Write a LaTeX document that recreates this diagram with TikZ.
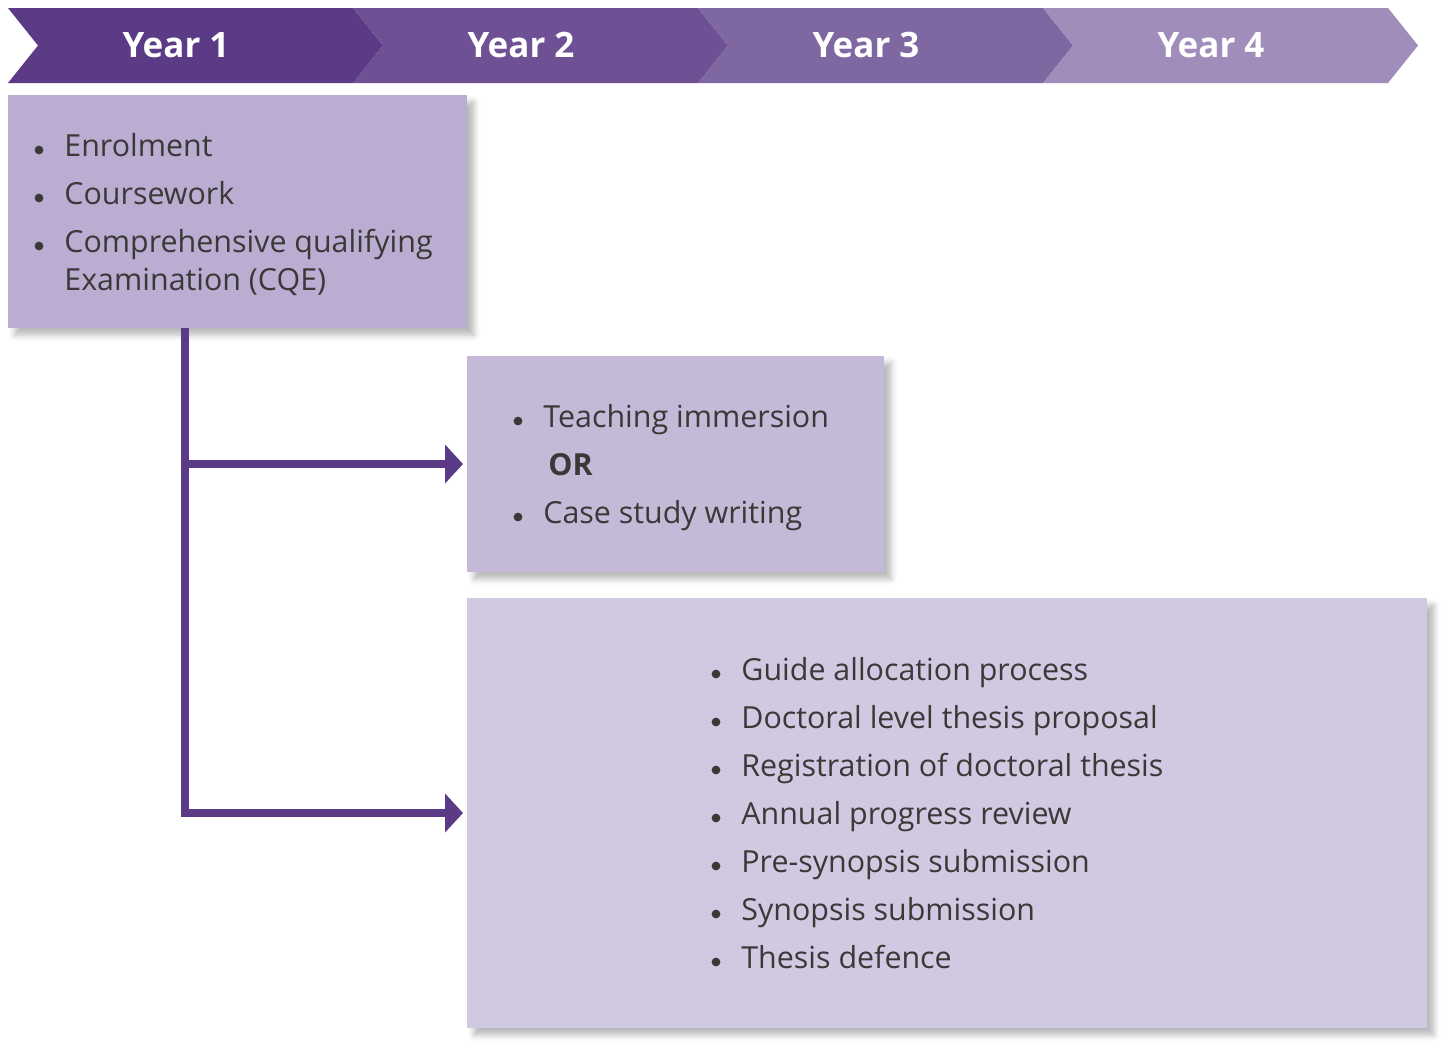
\documentclass[tikz,border=0pt]{standalone}
\usepackage{fontspec}
\setmainfont{Open Sans}
\usetikzlibrary{positioning,calc,arrows.meta,shadows.blur}
\usepackage{xcolor}
\definecolor{yearone}{HTML}{5B3A86}
\definecolor{yeartwo}{HTML}{6E5195}
\definecolor{yearthree}{HTML}{7F67A1}
\definecolor{yearfour}{HTML}{A08DBA}
\definecolor{boxone}{HTML}{BBADD2}
\definecolor{boxtwo}{HTML}{C4B9D6}
\definecolor{boxthree}{HTML}{D1C9E2}
\definecolor{ink}{HTML}{3B3838}
\tikzset{
yearlabel/.style={
  text=white,
  font=\fontsize{17.5}{20}\selectfont\bfseries,
  inner sep=0pt
  },
stagebox/.style={
  rectangle,
  anchor=north west,
  inner sep=0pt,
  outer sep=0pt,
  blur shadow={shadow xshift=3.5pt, shadow yshift=-3.5pt,
               shadow blur radius=3pt, shadow opacity=28}
  },
item/.style={
  anchor=base west,
  inner sep=0pt,
  text=ink,
  font=\fontsize{15.2}{18}\selectfont
  },
dot/.style={fill=ink},
flow/.style={
  draw=yearone,
  line width=4pt,
  -{Triangle[length=9pt,width=19pt]},
  shorten >=2pt
  },
%texto/.style={font=\small},
}

\begin{document}
\begin{tikzpicture}[x=0.5pt,y=-0.5pt]
    \useasboundingbox (0,0) rectangle (1441,1041);

    % timeline chevrons
    \foreach \i/\col in {1/yearone, 2/yeartwo, 3/yearthree, 4/yearfour}
    {
        \pgfmathsetmacro{\xa}{8+345*(\i-1)}
        \fill [\col] (\xa,8) -- ++(345,0) -- ++(30,37.5) -- ++(-30,37.5)
            -- ++(-345,0) -- ++(30,-37.5) -- cycle;
        \node [yearlabel] (year\i) at ({\xa+168},45) {Year \i};
    }

    % boxes
    \node [stagebox, fill=boxone, minimum width=229.5pt, minimum height=116.5pt] (enrol) at (8,95) {};
    \node [stagebox, fill=boxtwo, minimum width=208.5pt, minimum height=108pt] (teach) at (467,356) {};
    \node [stagebox, fill=boxthree, minimum width=480pt, minimum height=215pt] (thesis) at (467,598) {};

    % year 1
    \foreach \t [count=\k] in {Enrolment, Coursework, Comprehensive qualifying}
    {
        \node [item] (enrol\k) at (64,{156+48*(\k-1)}) {\t};
        \fill [dot] ($(enrol\k.base west)+(-25,-6)$) circle (2.2pt);
    }
    \node [item] (enrol4) at (64,290) {Examination (CQE)};

    % year 2
    \node [item] (teach1) at (543,427) {Teaching immersion};
    \node [item, font=\fontsize{15.2}{18}\selectfont\bfseries] (teachor) at (548,475) {OR};
    \node [item] (teach2) at (543,523) {Case study writing};
    \foreach \n in {teach1, teach2}
        \fill [dot] ($(\n.base west)+(-25,-6)$) circle (2.2pt);

    % years 3 and 4
    \foreach \t [count=\k] in {Guide allocation process, Doctoral level thesis proposal,
        Registration of doctoral thesis, Annual progress review,
        Pre-synopsis submission, Synopsis submission, Thesis defence}
    {
        \node [item] (thesis\k) at (741,{680+48*(\k-1)}) {\t};
        \fill [dot] ($(thesis\k.base west)+(-25,-6)$) circle (2.2pt);
    }

    % connectors
    \coordinate (split) at (185,328);
    \draw [flow] (split) |- (thesis.west);
    \draw [flow] (split |- teach.west) -- (teach.west);

\end{tikzpicture}
\end{document}
